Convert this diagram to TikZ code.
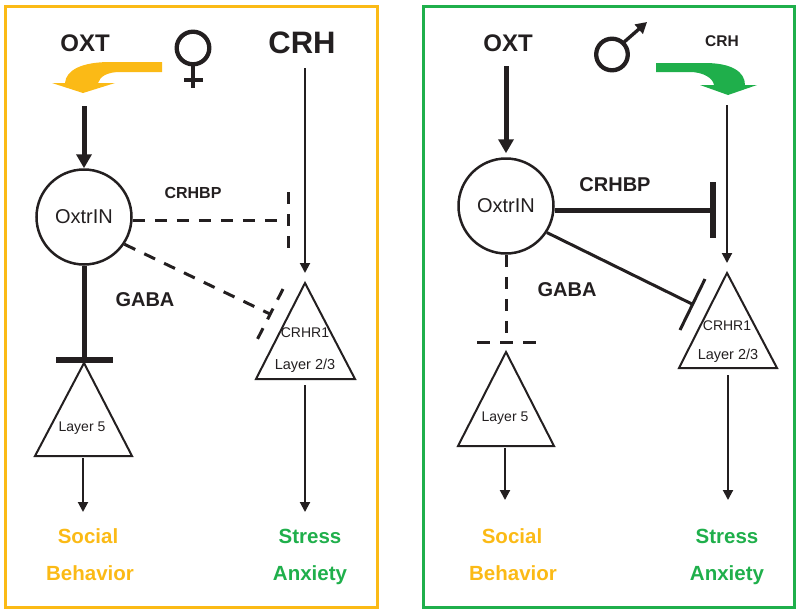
\documentclass[tikz,border=0pt]{standalone}
\usepackage{fontspec}
\setmainfont{Liberation Sans}
\usetikzlibrary{arrows.meta}
\definecolor{yel}{HTML}{FBBA16}
\definecolor{grn}{HTML}{1FAF4B}
\definecolor{ink}{HTML}{231F20}
\newcommand{\fsz}[1]{\fontsize{#1}{#1}\selectfont}
\tikzset{
  txt/.style={inner sep=0pt, text=ink, text height=.72em, text depth=0pt},
  btxt/.style={txt, font=\bfseries\fsz{#1}},
  rtxt/.style={txt, font=\fsz{#1}},
  cell/.style={draw=ink, line width=2.5pt, circle, minimum size=95pt, inner sep=0pt, font=\fsz{20}, text=ink},
  thinarr/.style={draw=ink, line width=2pt, -{Triangle[length=10pt,width=10pt]}},
  thickarr/.style={draw=ink, line width=5pt, -{Triangle[length=14pt,width=15pt]}},
  dsh/.style={draw=ink, line width=3pt, dash pattern=on 12pt off 10pt},
  tri/.style={draw=ink, line width=2pt, line join=miter},
  frame/.style={line width=3pt},
  sym/.style={draw=ink, line width=4.3pt},
}
\begin{document}
\begin{tikzpicture}[x=1pt,y=-1pt]
\useasboundingbox (0,0) rectangle (800,614);
% frames
\draw[frame, draw=yel] (5,6) rectangle (377,607);
\draw[frame, draw=grn] (423,6) rectangle (794,607);

% ================= LEFT (female) =================
\node[btxt=24] (oxtL) at (85,48) {OXT};
\draw[sym] (193,48) circle (16.3);
\coordinate (femA) at (193,64);
\coordinate (femB) at (193,88);
\coordinate (femC) at (184,80);
\coordinate (femD) at (203,80);
\draw[sym] (femA) -- (femB);
\draw[sym] (femC) -- (femD);
\fill[yel] (162,62) -- (110,62) .. controls (82,62) and (66,70) .. (65,83)
  -- (52,83) -- (83,93) -- (115,83) -- (98,83)
  .. controls (100,76) and (108,72) .. (120,72) -- (162,72) -- cycle;
\node[btxt=31] (crhL) at (302,50) {CRH};

\node[cell] (oxtrL) at (84,217) {OxtrIN};
\coordinate (oxtLin) at (84,106);
\draw[thickarr] (oxtLin) -- (oxtrL.north);

\node[btxt=16] (crhbpL) at (193,195) {CRHBP};
\coordinate (barL1) at (288,220);
\coordinate (barL1a) at (288,192);
\coordinate (barL1b) at (288,248);
\draw[dsh] ([yshift=-3pt]oxtrL.east) -- (barL1);
\draw[dsh] (barL1a) -- (barL1b);

% CRHR1 triangle left
\coordinate (trLtop) at (305,283);
\coordinate (trLl) at (256,379);
\coordinate (trLr) at (355,379);
\draw[tri] (trLtop) -- (trLr) -- (trLl) -- cycle;
\node[rtxt=14] (crhr1L) at (305,334) {CRHR1};
\node[rtxt=14.5] (lay23L) at (305,366) {Layer 2/3};
\coordinate (crhLin) at (305,68);
\draw[thinarr] (crhLin) -- ([yshift=10pt]trLtop) ;

\coordinate (barL2) at (270,314);
\coordinate (barL2a) at (283,289);
\coordinate (barL2b) at (257,340);
\draw[dsh] (oxtrL.-34) -- (barL2);
\draw[dsh] (barL2a) -- (barL2b);

% GABA left
\node[btxt=20] (gabaL) at (145,303) {GABA};
\coordinate (barL3) at (84,360);
\coordinate (barL3a) at (56,360);
\coordinate (barL3b) at (113,360);
\draw[draw=ink, line width=5pt] (oxtrL.south) -- (barL3);
\draw[draw=ink, line width=6pt] (barL3a) -- (barL3b);

% Layer 5 left
\coordinate (l5Ltop) at (84,363);
\coordinate (l5Ll) at (35,456);
\coordinate (l5Lr) at (132,456);
\draw[tri] (l5Ltop) -- (l5Lr) -- (l5Ll) -- cycle;
\node[rtxt=14] (lay5L) at (82,428) {Layer 5};

\coordinate (l5Lout) at (83,458);
\coordinate (l5Lend) at (83,512);
\draw[thinarr] (l5Lout) -- (l5Lend);
\coordinate (trLout) at (305,385);
\coordinate (trLend) at (305,512);
\draw[thinarr] (trLout) -- (trLend);

\node[btxt=20.5, text=yel] (socL) at (88,540) {Social};
\node[btxt=20.5, text=yel] (behL) at (90,577) {Behavior};
\node[btxt=20.5, text=grn] (strL) at (310,540) {Stress};
\node[btxt=20.5, text=grn] (anxL) at (310,577) {Anxiety};

% ================= RIGHT (male) =================
\node[btxt=24] (oxtR) at (508,48) {OXT};
\draw[sym] (612,54.5) circle (15.8);
\coordinate (maleA) at (623,43);
\coordinate (maleB) at (647,22);
\draw[draw=ink, line width=3.4pt, -{Triangle[length=11pt,width=12pt]}] (maleA) -- (maleB);
\node[btxt=15.5] (crhR) at (722,43) {CRH};
\fill[grn] (656,63) -- (705,63) .. controls (732,63) and (745,72) .. (745,85)
  -- (757,85) -- (728,95) -- (700,85) -- (714,85)
  .. controls (713,78) and (703,72) .. (690,72) -- (656,72) -- cycle;

\node[cell] (oxtrR) at (506,206) {OxtrIN};
\coordinate (oxtRin) at (506,66);
\draw[thickarr, shorten >=4pt] (oxtRin) -- (oxtrR.north);

\node[btxt=20] (crhbpR) at (615,188) {CRHBP};
\coordinate (barR1) at (713,210);
\coordinate (barR1a) at (713,182);
\coordinate (barR1b) at (713,238);
\draw[draw=ink, line width=5pt] ([yshift=-4pt]oxtrR.east) -- (barR1);
\draw[draw=ink, line width=5.5pt] (barR1a) -- (barR1b);

% CRHR1 triangle right
\coordinate (trRtop) at (727,273);
\coordinate (trRl) at (679,368);
\coordinate (trRr) at (777,368);
\draw[tri] (trRtop) -- (trRr) -- (trRl) -- cycle;
\node[rtxt=14] (crhr1R) at (727,327) {CRHR1};
\node[rtxt=14.5] (lay23R) at (728,356) {Layer 2/3};
\coordinate (crhRin) at (727,105);
\draw[thinarr] (crhRin) -- ([yshift=10pt]trRtop);

\coordinate (barR2) at (692,304);
\coordinate (barR2a) at (705,279);
\coordinate (barR2b) at (680,330);
\draw[draw=ink, line width=3pt] (oxtrR.-33) -- (barR2);
\draw[draw=ink, line width=3pt] (barR2a) -- (barR2b);

% GABA right
\node[btxt=20] (gabaR) at (567,293) {GABA};
\coordinate (barR3) at (506,342);
\coordinate (barR3a) at (477,342);
\coordinate (barR3b) at (536,342);
\draw[dsh] (oxtrR.south) -- (barR3);
\draw[dsh, dash pattern=on 13pt off 10pt] (barR3a) -- (barR3b);

% Layer 5 right
\coordinate (l5Rtop) at (506,352);
\coordinate (l5Rl) at (458,446);
\coordinate (l5Rr) at (554,446);
\draw[tri] (l5Rtop) -- (l5Rr) -- (l5Rl) -- cycle;
\node[rtxt=14] (lay5R) at (505,418) {Layer 5};

\coordinate (l5Rout) at (505,448);
\coordinate (l5Rend) at (505,500);
\draw[thinarr] (l5Rout) -- (l5Rend);
\coordinate (trRout) at (728,375);
\coordinate (trRend) at (728,500);
\draw[thinarr] (trRout) -- (trRend);

\node[btxt=20.5, text=yel] (socR) at (512,540) {Social};
\node[btxt=20.5, text=yel] (behR) at (513,577) {Behavior};
\node[btxt=20.5, text=grn] (strR) at (727,540) {Stress};
\node[btxt=20.5, text=grn] (anxR) at (727,577) {Anxiety};
\end{tikzpicture}
\end{document}
